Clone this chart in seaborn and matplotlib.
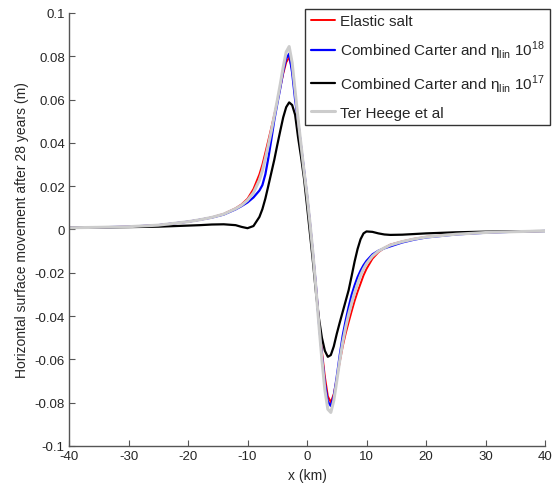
import numpy as np
import pandas as pd
import matplotlib
matplotlib.use("Agg")
import matplotlib.pyplot as plt
import seaborn as sns

# valores
x_km = [-40, -35, -30, -25, -20, -18, -16, -14, -12, -11, -10, -9, -8, -7.5, -7, -6.5, -6, -5.5, -5, -4.5,
        -4, -3.5, -3, -2.5, -2, -1.5, -1, -0.5, 0, 0.5, 1, 1.5, 2, 2.5, 3, 3.5, 4, 4.5, 5, 5.5,
        6, 6.5, 7, 7.5, 8, 8.5, 9, 9.5, 10, 11, 12, 13, 14, 16, 18, 20, 25, 30, 35, 40]

elastic_salt = [0.0008, 0.0010, 0.0013, 0.0020, 0.0036, 0.0045, 0.0056, 0.0072, 0.0098, 0.0116,
                0.0142, 0.0187, 0.0255, 0.0300, 0.0355, 0.0412, 0.0470, 0.0530, 0.0590, 0.0655,
                0.0720, 0.0772, 0.0795, 0.0740, 0.0620, 0.0500, 0.0385, 0.0270, 0.0160, 0.0030,
                -0.0110, -0.0260, -0.0420, -0.0560, -0.0680, -0.0770, -0.0798, -0.0760, -0.0690, -0.0612,
                -0.0540, -0.0480, -0.0428, -0.0378, -0.0330, -0.0288, -0.0250, -0.0212, -0.0182, -0.0135,
                -0.0105, -0.0085, -0.0070, -0.0055, -0.0043, -0.0034, -0.0022, -0.0014, -0.0010, -0.0007]

carter_1e18 = [0.0008, 0.0010, 0.0013, 0.0020, 0.0036, 0.0045, 0.0055, 0.0069, 0.0093, 0.0108,
               0.0125, 0.0148, 0.0180, 0.0205, 0.0255, 0.0330, 0.0415, 0.0505, 0.0580, 0.0652,
               0.0730, 0.0790, 0.0812, 0.0725, 0.0600, 0.0500, 0.0385, 0.0275, 0.0160, 0.0030,
               -0.0110, -0.0260, -0.0430, -0.0580, -0.0710, -0.0795, -0.0815, -0.0770, -0.0680, -0.0580,
               -0.0490, -0.0420, -0.0358, -0.0302, -0.0258, -0.0220, -0.0190, -0.0165, -0.0145, -0.0115,
               -0.0098, -0.0087, -0.0078, -0.0060, -0.0047, -0.0037, -0.0023, -0.0015, -0.0010, -0.0007]

carter_1e17 = [0.0008, 0.0009, 0.0011, 0.0013, 0.0018, 0.0020, 0.0023, 0.0024, 0.0020, 0.0012,
               0.0006, 0.0016, 0.0058, 0.0094, 0.0143, 0.0202, 0.0262, 0.0322, 0.0390, 0.0455,
               0.0518, 0.0565, 0.0587, 0.0575, 0.0530, 0.0425, 0.0335, 0.0235, 0.0110, -0.0020,
               -0.0150, -0.0290, -0.0410, -0.0500, -0.0560, -0.0588, -0.0580, -0.0540, -0.0482, -0.0430,
               -0.0380, -0.0330, -0.0280, -0.0215, -0.0148, -0.0090, -0.0045, -0.0018, -0.0009, -0.0011,
               -0.0018, -0.0023, -0.0025, -0.0024, -0.0021, -0.0018, -0.0013, -0.0010, -0.0008, -0.0007]

ter_heege = [0.0008, 0.0010, 0.0013, 0.0020, 0.0036, 0.0045, 0.0056, 0.0071, 0.0096, 0.0112,
             0.0135, 0.0170, 0.0228, 0.0272, 0.0328, 0.0390, 0.0455, 0.0525, 0.0595, 0.0670,
             0.0750, 0.0820, 0.0845, 0.0770, 0.0640, 0.0510, 0.0390, 0.0270, 0.0160, 0.0030,
             -0.0110, -0.0270, -0.0440, -0.0600, -0.0740, -0.0830, -0.0845, -0.0790, -0.0700, -0.0605,
             -0.0522, -0.0452, -0.0392, -0.0340, -0.0292, -0.0250, -0.0212, -0.0182, -0.0158, -0.0123,
             -0.0100, -0.0085, -0.0072, -0.0056, -0.0044, -0.0035, -0.0022, -0.0014, -0.0010, -0.0007]

labels = ['Elastic salt',
          'Combined Carter and η$_{\\mathrm{lin}}$ 10$^{18}$',
          'Combined Carter and η$_{\\mathrm{lin}}$ 10$^{17}$',
          'Ter Heege et al']

xticks = [-40, -30, -20, -10, 0, 10, 20, 30, 40]
yticks = [-0.1, -0.08, -0.06, -0.04, -0.02, 0, 0.02, 0.04, 0.06, 0.08, 0.1]
yticklabels = ['-0.1', '-0.08', '-0.06', '-0.04', '-0.02', '0', '0.02', '0.04', '0.06', '0.08', '0.1']

sns.set_style("ticks", {"xtick.direction": "in", "ytick.direction": "in"})
plt.rcParams['font.family'] = ['Liberation Sans', 'DejaVu Sans']
plt.rcParams['mathtext.fontset'] = 'custom'
plt.rcParams['mathtext.rm'] = 'Liberation Sans'
plt.rcParams['axes.unicode_minus'] = False

fig = plt.figure(figsize=(5.58, 4.89), dpi=100)
ax = fig.add_axes([0.1237, 0.0859, 0.8530, 0.8855])

df = pd.DataFrame({'x': x_km, 'elastic': elastic_salt, 'c18': carter_1e18,
                   'c17': carter_1e17, 'heege': ter_heege})

sns.lineplot(data=df, x='x', y='elastic', color='red', lw=1.4, label=labels[0], ax=ax)
sns.lineplot(data=df, x='x', y='c18', color='blue', lw=1.6, label=labels[1], ax=ax)
sns.lineplot(data=df, x='x', y='c17', color='black', lw=1.6, label=labels[2], ax=ax)
sns.lineplot(data=df, x='x', y='heege', color='#cccccc', lw=2.2, label=labels[3], ax=ax)

ax.set_xlim(-40, 40)
ax.set_ylim(-0.1, 0.1)
ax.set_xticks(xticks)
ax.set_xticklabels([str(t) for t in xticks])
ax.set_yticks(yticks)
ax.set_yticklabels(yticklabels)
ax.tick_params(labelsize=9.5, length=4, color='#555555', pad=3)
for s in ['left', 'bottom']:
    ax.spines[s].set_color('#555555')
    ax.spines[s].set_linewidth(1)
sns.despine(ax=ax)

ax.set_xlabel('x (km)', fontsize=10)
ax.set_ylabel('Horizontal surface movement after 28 years (m)', fontsize=10, labelpad=4)

leg = ax.legend(loc='upper left', bbox_to_anchor=(0.547, 0.98), bbox_transform=fig.transFigure,
                fontsize=11, handlelength=1.6, labelspacing=0.72, handletextpad=0.3,
                borderpad=0.35, borderaxespad=0, frameon=True, fancybox=False)
leg.get_frame().set_edgecolor('#333333')
leg.get_frame().set_linewidth(1)
leg.get_frame().set_alpha(1)

fig.savefig('out.png', dpi=100)
